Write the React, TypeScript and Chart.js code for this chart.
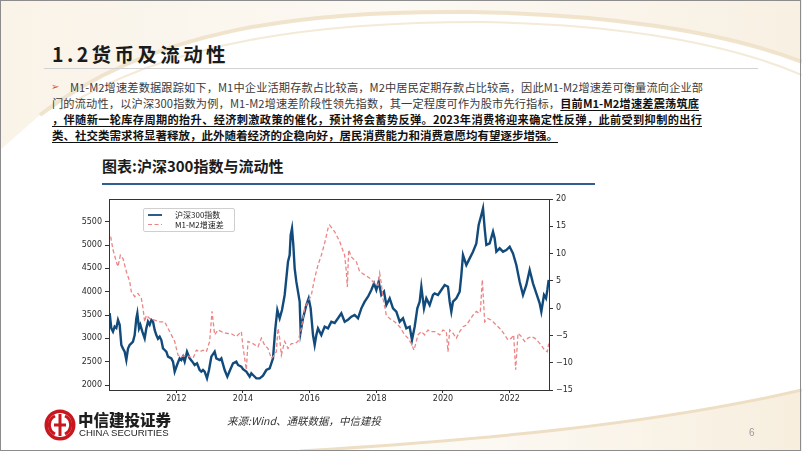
import React, { useEffect, useRef } from 'react';
import { Chart, registerables } from 'chart.js';

Chart.register(...registerables);

// ---- data ----
const xTickYears = [2012, 2014, 2016, 2018, 2020, 2022];
const leftTickValues = [2000, 2500, 3000, 3500, 4000, 4500, 5000, 5500];
const rightTickValues = [-15, -10, -5, 0, 5, 10, 15, 20];

const hs300Label = '沪深300指数';
const m1m2Label = 'M1-M2增速差';

const hs300Years = [
  2010.00, 2010.05, 2010.10, 2010.15, 2010.20, 2010.25, 2010.30, 2010.35, 2010.40, 2010.45, 2010.50, 2010.55, 2010.60, 2010.65, 2010.70, 2010.75, 2010.80, 2010.83, 2010.88, 2010.92, 2010.98,
  2011.05, 2011.10, 2011.15, 2011.20, 2011.25, 2011.30, 2011.35, 2011.40, 2011.45, 2011.50, 2011.55, 2011.60, 2011.65, 2011.70, 2011.75, 2011.85, 2011.90, 2011.95,
  2012.02, 2012.10, 2012.15, 2012.20, 2012.25, 2012.32, 2012.40, 2012.48, 2012.55, 2012.62, 2012.70, 2012.75, 2012.80, 2012.85, 2012.92, 2012.98,
  2013.05, 2013.15, 2013.20, 2013.30, 2013.35, 2013.45, 2013.53, 2013.60, 2013.70, 2013.80, 2013.85, 2013.95,
  2014.00, 2014.10, 2014.20, 2014.25, 2014.30, 2014.40, 2014.50, 2014.60, 2014.70, 2014.80, 2014.90, 2014.97,
  2015.03, 2015.10, 2015.17, 2015.25, 2015.30, 2015.35, 2015.40, 2015.43, 2015.47, 2015.51, 2015.55, 2015.60, 2015.65, 2015.70, 2015.73, 2015.80, 2015.90, 2015.97,
  2016.03, 2016.10, 2016.15, 2016.20, 2016.25, 2016.35, 2016.45, 2016.55, 2016.65, 2016.75, 2016.85, 2016.95,
  2017.05, 2017.15, 2017.25, 2017.35, 2017.45, 2017.55, 2017.65, 2017.75, 2017.85, 2017.93,
  2018.00, 2018.07, 2018.15, 2018.23, 2018.30, 2018.40, 2018.50, 2018.60, 2018.70, 2018.80, 2018.90,
  2019.00, 2019.07, 2019.15, 2019.23, 2019.30, 2019.35, 2019.43, 2019.50, 2019.60, 2019.70, 2019.75, 2019.85, 2019.95,
  2020.05, 2020.15, 2020.20, 2020.25, 2020.30, 2020.40, 2020.50, 2020.55, 2020.60, 2020.70, 2020.80, 2020.90,
  2021.00, 2021.07, 2021.15, 2021.20, 2021.25, 2021.30, 2021.40, 2021.50, 2021.55, 2021.60, 2021.70, 2021.80, 2021.90,
  2022.00, 2022.10, 2022.20, 2022.30, 2022.40, 2022.50, 2022.60, 2022.70, 2022.80, 2022.90, 2022.95,
  2023.03, 2023.09, 2023.13, 2023.17,
];
const hs300Values = [
  3540, 3214, 3143, 3250, 3220, 3393, 3290, 2857, 2780, 2714, 2536, 2780, 2857, 2893, 2930, 3071, 3429, 3536, 3214, 3290, 3143,
  3000, 3214, 3357, 3290, 3393, 3357, 3179, 3071, 2993, 3036, 2964, 2786, 2750, 2714, 2607, 2571, 2500, 2286,
  2429, 2571, 2536, 2607, 2500, 2714, 2571, 2500, 2429, 2464, 2321, 2286, 2321, 2286, 2143, 2321,
  2607, 2714, 2571, 2536, 2571, 2321, 2179, 2300, 2464, 2500, 2430, 2393,
  2340, 2286, 2179, 2250, 2214, 2143, 2143, 2200, 2321, 2357, 2571, 3214,
  3607, 3429, 3607, 3929, 4286, 4643, 4786, 5214, 5357, 5000, 4500, 4214, 4000, 3786, 3143, 3429, 3714, 3857,
  3643, 3071, 2857, 3071, 3214, 3071, 3250, 3214, 3357, 3330, 3430, 3536,
  3357, 3400, 3464, 3500, 3430, 3643, 3786, 3893, 4035, 4179,
  4035, 4214, 3929, 4000, 3714, 3857, 3643, 3571, 3357, 3429, 3214,
  3250, 2964, 3250, 3643, 3786, 4107, 3643, 3857, 3714, 3929, 3964, 3929, 4036,
  4143, 4107, 3786, 3571, 3786, 3857, 4000, 4357, 4786, 4571, 4714, 4857,
  5036, 5429, 5643, 5786, 5357, 5000, 5036, 5286, 5143, 4857, 4929, 4857, 4893,
  4964, 4821, 4571, 4214, 3929, 4143, 4464, 4179, 3964, 3750, 3571,
  3929, 3857, 4036, 4250,
];

const m1m2Years = [
  2010.03, 2010.10, 2010.20, 2010.25, 2010.32, 2010.40, 2010.50, 2010.60, 2010.65, 2010.75, 2010.85, 2010.95,
  2011.00, 2011.05, 2011.10, 2011.20, 2011.35, 2011.50, 2011.65, 2011.75, 2011.85, 2011.95,
  2012.05, 2012.15, 2012.30, 2012.40, 2012.50, 2012.60, 2012.70, 2012.80, 2012.90,
  2013.00, 2013.07, 2013.15, 2013.25, 2013.35, 2013.50, 2013.65, 2013.80, 2013.95,
  2014.00, 2014.10, 2014.15, 2014.30, 2014.45, 2014.55, 2014.65, 2014.75, 2014.85, 2014.90,
  2015.00, 2015.05, 2015.10, 2015.15, 2015.25, 2015.35, 2015.45, 2015.55, 2015.65, 2015.75, 2015.85, 2015.95,
  2016.05, 2016.15, 2016.25, 2016.35, 2016.45, 2016.55, 2016.60, 2016.75, 2016.90,
  2017.05, 2017.10, 2017.13, 2017.17, 2017.25, 2017.40, 2017.50, 2017.65, 2017.80, 2017.95,
  2018.05, 2018.10, 2018.15, 2018.20, 2018.30, 2018.40, 2018.55, 2018.70, 2018.85, 2018.95,
  2019.05, 2019.13, 2019.25, 2019.35, 2019.45, 2019.55, 2019.65, 2019.75, 2019.90,
  2020.00, 2020.10, 2020.15, 2020.20, 2020.30, 2020.40, 2020.50, 2020.60, 2020.70, 2020.80, 2020.90,
  2021.00, 2021.07, 2021.12, 2021.18, 2021.25, 2021.35, 2021.45, 2021.55, 2021.65, 2021.75, 2021.85, 2021.95,
  2022.05, 2022.12, 2022.18, 2022.25, 2022.35, 2022.45, 2022.55, 2022.65, 2022.75, 2022.85, 2022.95,
  2023.05, 2023.13, 2023.17,
];
const m1m2Values = [
  13.1, 10.7, 8.5, 7.6, 9.7, 9.1, 6.7, 4.9, 3.0, 2.1, 2.7, 1.8,
  0.0, -2.5, -1.3, -1.9, -2.2, -2.5, -2.5, -3.7, -4.9, -6.1,
  -8.6, -8.9, -8.6, -8.9, -9.2, -7.7, -8.0, -7.7, -8.0,
  -6.1, -0.6, -4.9, -4.0, -4.3, -4.6, -4.7, -5.2, -4.3,
  -7.1, -11.3, -6.1, -6.5, -7.1, -5.5, -6.8, -7.4, -9.2, -8.9,
  -8.0, -3.7, -5.5, -8.6, -6.1, -7.4, -6.5, -6.5, -6.1, -3.7, 0.0, 1.2,
  2.4, 5.5, 7.9, 9.7, 11.9, 14.6, 15.2, 14.0, 12.2,
  9.7, 6.7, 3.9, 10.7, 9.4, 8.5, 6.7, 6.1, 5.5, 4.5,
  4.2, 6.4, 4.5, 1.8, -1.3, -1.9, -2.5, -3.4, -4.9, -5.5,
  -6.5, -7.7, -4.9, -4.3, -4.9, -4.0, -4.3, -4.3, -4.9,
  -4.0, -4.3, -8.0, -4.0, -4.6, -5.5, -4.3, -3.4, -3.1, -2.2, -1.3,
  -0.6, -0.9, -0.6, 5.2, -2.5, -1.9, -2.2, -2.8, -3.4, -4.0, -4.9, -5.8,
  -5.5, -4.9, -11.3, -4.6, -5.2, -6.1, -5.5, -5.2, -5.5, -6.1, -6.8,
  -7.7, -8.0, -6.5,
];

const BLUE = '#124b7b';
const RED = '#ec8585';
const TICK_FONT = { family: 'DejaVu Sans', size: 8 };
const TICK_COLOR = '#2a2a2a';
const CJK = '"Noto Sans CJK SC", "Noto Sans", sans-serif';

const fmtMinus = (v: number) => (v < 0 ? '\u2212' + Math.abs(v) : String(v));

function ChartCanvas() {
  const ref = useRef<HTMLCanvasElement | null>(null);
  useEffect(() => {
    if (!ref.current) return;
    const framePlugin = {
      id: 'frame',
      afterDatasetsDraw(chart: any) {
        const { ctx, chartArea: a } = chart;
        ctx.save();
        ctx.strokeStyle = '#333';
        ctx.lineWidth = 1;
        ctx.strokeRect(Math.round(a.left) + 0.5, Math.round(a.top) + 0.5, Math.round(a.right - a.left), Math.round(a.bottom - a.top));
        ctx.restore();
      },
    };
    const chart = new Chart(ref.current, {
      type: 'line',
      data: {
        datasets: [
          {
            label: m1m2Label,
            data: m1m2Years.map((x, i) => ({ x, y: m1m2Values[i] })),
            yAxisID: 'y1',
            borderColor: RED,
            borderWidth: 1.3,
            borderDash: [4, 2.5],
            pointRadius: 0,
            tension: 0,
            order: 1,
          },
          {
            label: hs300Label,
            data: hs300Years.map((x, i) => ({ x, y: hs300Values[i] })),
            yAxisID: 'y',
            borderColor: BLUE,
            borderWidth: 2.4,
            pointRadius: 0,
            tension: 0,
            order: 2,
          },
        ],
      },
      options: {
        animation: false,
        responsive: false,
        maintainAspectRatio: false,
        layout: { padding: { top: 9, left: 0, right: 0, bottom: 0 } },
        plugins: { legend: { display: false }, tooltip: { enabled: false } },
        scales: {
          x: {
            type: 'linear',
            min: 2009.98,
            max: 2023.18,
            afterBuildTicks: (ax: any) => {
              ax.ticks = xTickYears.map((v) => ({ value: v }));
            },
            afterFit: (ax: any) => {
              ax.height = 25;
            },
            ticks: { font: TICK_FONT, color: TICK_COLOR, padding: 1, maxRotation: 0, autoSkip: false, callback: (v: any) => String(v) },
            grid: { display: true, drawOnChartArea: false, tickLength: 3, color: '#333' },
            border: { display: false },
          },
          y: {
            type: 'linear',
            position: 'left',
            min: 1893,
            max: 5986,
            afterBuildTicks: (ax: any) => {
              ax.ticks = leftTickValues.map((v) => ({ value: v }));
            },
            afterFit: (ax: any) => {
              ax.width = 49;
            },
            ticks: { font: TICK_FONT, color: TICK_COLOR, padding: 3, autoSkip: false, callback: (v: any) => String(v) },
            grid: { display: true, drawOnChartArea: false, tickLength: 4, color: '#333' },
            border: { display: false },
          },
          y1: {
            type: 'linear',
            position: 'right',
            min: -15,
            max: 20,
            afterBuildTicks: (ax: any) => {
              ax.ticks = rightTickValues.map((v) => ({ value: v }));
            },
            afterFit: (ax: any) => {
              ax.width = 51;
            },
            ticks: { font: TICK_FONT, color: TICK_COLOR, padding: 3, autoSkip: false, callback: (v: any) => fmtMinus(v) },
            grid: { display: true, drawOnChartArea: false, tickLength: 4, color: '#333' },
            border: { display: false },
          },
        },
      } as any,
      plugins: [framePlugin],
    });
    return () => chart.destroy();
  }, []);
  return <canvas ref={ref} width={540} height={225} style={{ position: 'absolute', left: 60, top: 190, width: 540, height: 225 }} />;
}

const abs = (s: React.CSSProperties): React.CSSProperties => ({ position: 'absolute', ...s });

const bodyBase: React.CSSProperties = {
  position: 'absolute',
  fontFamily: CJK,
  fontSize: 11.2,
  lineHeight: '16px',
  height: 16,
  color: '#3a3a3a',
  textAlign: 'justify',
  textAlignLast: 'justify' as any,
};
const strong: React.CSSProperties = {
  fontWeight: 700,
  color: '#111',
  textDecoration: 'underline',
  textUnderlineOffset: '2px',
};

export default function App() {
  useEffect(() => {
    document.body.style.margin = '0';
  }, []);
  return (
    <div style={{ position: 'fixed', left: 0, top: 0, width: 802, height: 451, background: '#fff', overflow: 'hidden' }}>
      {/* decorative background */}
      <svg width={802} height={451} style={{ position: 'absolute', left: 0, top: 0 }}>
        <defs>
          <linearGradient id="tg" x1="0" y1="0" x2="1" y2="0">
            <stop offset="0" stopColor="#f8f0e2" />
            <stop offset="0.5" stopColor="#fcf8f1" />
            <stop offset="1" stopColor="#f6ecdb" />
          </linearGradient>
          <linearGradient id="bg" x1="0" y1="0" x2="1" y2="0">
            <stop offset="0" stopColor="#ffffff" />
            <stop offset="1" stopColor="#f6ecda" />
          </linearGradient>
        </defs>
        <path d="M0,0 L802,0 L802,62 C 720,30 600,14 470,12 C 300,10 150,30 40,115 L0,150 Z" fill="url(#tg)" opacity="0.8" />
        <path d="M40,115 C 150,30 300,10 470,12 C 600,14 720,30 802,62" fill="none" stroke="#efe1c8" strokeWidth="4" opacity="0.9" />
        <path d="M60,110 C 170,40 320,22 480,22 C 610,24 720,40 802,75" fill="none" stroke="#f4ead8" strokeWidth="2" />
        <path d="M300,451 C 480,440 650,425 802,390 L802,451 Z" fill="url(#bg)" opacity="0.9" />
        <path d="M300,451 C 480,440 650,425 802,390" fill="none" stroke="#eedfc4" strokeWidth="3" />
      </svg>
      <div style={abs({ left: 0, top: 0, width: 799, height: 449, border: '1px solid #8c8c8c' })} />

      {/* title */}
      <div style={abs({ left: 52, top: 41, fontFamily: CJK, fontWeight: 700, fontSize: 19.5, letterSpacing: 3.4, lineHeight: '26px', color: '#1b1b1b', whiteSpace: 'nowrap' })}>
        1.2货币及流动性
      </div>
      <div style={abs({ left: 44, top: 68, width: 714, height: 1, background: '#d2d2d2' })} />

      {/* paragraph */}
      <div style={abs({ left: 51, top: 79, fontSize: 10, lineHeight: '16px', color: '#d9571f', fontFamily: 'DejaVu Sans' })}>➢</div>
      <div style={{ ...bodyBase, left: 70, top: 79, width: 633 }}>
        M1-M2增速差数据跟踪如下，M1中企业活期存款占比较高，M2中居民定期存款占比较高，因此M1-M2增速差可衡量流向企业部
      </div>
      <div style={{ ...bodyBase, left: 52, top: 95, width: 647 }}>
        门的流动性，以沪深300指数为例，M1-M2增速差阶段性领先指数，其一定程度可作为股市先行指标，
        <span style={strong}>目前M1-M2增速差震荡筑底</span>
      </div>
      <div style={{ ...bodyBase, left: 52, top: 111, width: 650 }}>
        <span style={strong}>，伴随新一轮库存周期的抬升、经济刺激政策的催化，预计将会蓄势反弹。2023年消费将迎来确定性反弹，此前受到抑制的出行</span>
      </div>
      <div style={{ ...bodyBase, left: 52, top: 127, width: 520, textAlign: 'left', textAlignLast: 'left' as any, fontSize: 11.5, whiteSpace: 'nowrap' }}>
        <span style={strong}>类、社交类需求将显著释放，此外随着经济的企稳向好，居民消费能力和消费意愿均有望逐步增强。</span>
      </div>

      {/* chart title */}
      <div style={abs({ left: 102, top: 156, fontFamily: CJK, fontWeight: 700, fontSize: 15, lineHeight: '20px', color: '#1a1a1a', whiteSpace: 'nowrap' })}>
        图表:沪深300指数与流动性
      </div>
      <div style={abs({ left: 102, top: 183, width: 493, height: 2, background: '#2f5f8e' })} />

      <ChartCanvas />

      {/* legend */}
      <div style={abs({ left: 143, top: 208, width: 90, height: 22, border: '1px solid #cfcfcf', borderRadius: 2, background: 'rgba(255,255,255,0.9)' })}>
        <svg width={20} height={22} style={{ position: 'absolute', left: 2, top: 0 }}>
          <line x1={2} y1={6} x2={16} y2={6} stroke={BLUE} strokeWidth={1.8} />
          <line x1={2} y1={15.5} x2={16} y2={15.5} stroke={RED} strokeWidth={1.2} strokeDasharray="4 2.5" />
        </svg>
        <div style={abs({ left: 31, top: 0, fontFamily: CJK, fontSize: 8, lineHeight: '11px', color: '#222', whiteSpace: 'nowrap' })}>{hs300Label}</div>
        <div style={abs({ left: 31, top: 10, fontFamily: CJK, fontSize: 8, lineHeight: '11px', color: '#222', whiteSpace: 'nowrap' })}>{m1m2Label}</div>
      </div>

      {/* footer */}
      <svg width={34} height={34} style={{ position: 'absolute', left: 43, top: 408 }}>
        <circle cx={17} cy={17} r={15.5} fill="#c8171f" />
        <circle cx={17} cy={17} r={12} fill="#fff" />
        <path d="M12,8 A10,10 0 0 0 12,26" fill="none" stroke="#c8171f" strokeWidth={3} />
        <path d="M22,8 A10,10 0 0 1 22,26" fill="none" stroke="#c8171f" strokeWidth={3} />
        <rect x={15.5} y={6} width={3} height={22} fill="#c8171f" />
        <rect x={11} y={15.5} width={12} height={3} fill="#c8171f" />
      </svg>
      <div style={abs({ left: 78, top: 409, fontFamily: CJK, fontWeight: 900, fontSize: 15.5, lineHeight: '20px', color: '#1e1e1e', whiteSpace: 'nowrap' })}>
        中信建投证券
      </div>
      <div style={abs({ left: 79, top: 427, fontFamily: '"Liberation Sans", Arial, sans-serif', fontSize: 9.6, lineHeight: '12px', color: '#1e1e1e', whiteSpace: 'nowrap' })}>
        CHINA SECURITIES
      </div>
      <div style={abs({ left: 227, top: 413, fontFamily: CJK, fontStyle: 'italic', fontSize: 10.5, lineHeight: '16px', color: '#333', whiteSpace: 'nowrap' })}>
        来源:Wind、通联数据，中信建投
      </div>
      <div style={abs({ left: 749, top: 427, fontFamily: 'Liberation Sans, sans-serif', fontSize: 10, lineHeight: '12px', color: '#9a9a9a' })}>6</div>
    </div>
  );
}
